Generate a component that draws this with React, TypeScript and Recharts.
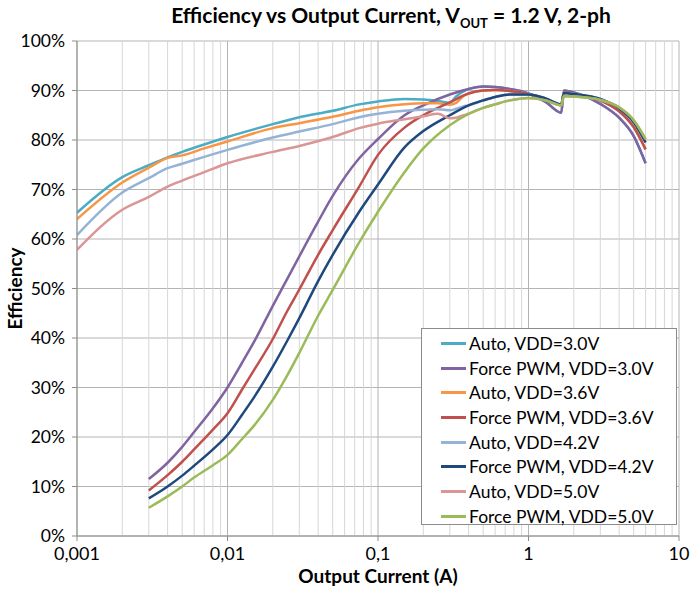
import {
  LineChart,
  Line,
  XAxis,
  YAxis,
  CartesianGrid,
  ReferenceLine,
  Label,
} from "recharts";

// output current (A) sample points
const autoCurrents = [0.001, 0.002, 0.003, 0.004, 0.005, 0.007, 0.01, 0.02, 0.03, 0.05, 0.075, 0.1, 0.15, 0.2, 0.25, 0.3, 0.33, 0.37, 0.4, 0.5, 0.6, 0.75, 1.0];
const pwmCurrents = [0.003, 0.004, 0.005, 0.006, 0.008, 0.01, 0.0125, 0.015, 0.02, 0.025, 0.03, 0.04, 0.05, 0.075, 0.1, 0.15, 0.2, 0.3, 0.4, 0.5, 0.6, 0.75, 1.0];
const tailCurrents = [1.3, 1.65, 1.72, 2, 3, 4, 5, 6];

// efficiency (%)
const auto30 = [65.3, 72.5, 74.9, 76.5, 77.6, 79.1, 80.6, 83.2, 84.6, 85.9, 87.2, 87.8, 88.3, 88.2, 87.9, 87.5, 88.8, 89.8, 90.3, 90.8, 90.7, 90.3, 89.4];
const auto36 = [64.0, 71.4, 74.4, 76.4, 76.9, 78.3, 79.7, 82.4, 83.4, 84.7, 85.9, 86.6, 87.2, 87.4, 87.4, 87.1, 87.5, 88.9, 89.4, 90.0, 90.1, 89.9, 89.3];
const auto42 = [60.8, 69.4, 72.3, 74.3, 75.2, 76.6, 78.0, 80.5, 81.7, 83.2, 84.6, 85.3, 85.9, 86.1, 86.2, 86.0, 86.3, 86.8, 87.0, 88.0, 88.7, 89.2, 89.2];
const auto50 = [57.8, 65.9, 68.5, 70.6, 71.8, 73.5, 75.3, 77.6, 78.8, 80.6, 82.4, 83.3, 84.2, 84.8, 85.3, 84.4, 84.5, 85.0, 85.3, 86.5, 87.2, 88.0, 88.5];

const pwm30 = [11.5, 14.8, 18.0, 21.0, 25.8, 30.0, 35.0, 39.2, 46.5, 52.0, 56.5, 63.5, 68.7, 76.3, 80.2, 85.0, 87.0, 89.2, 90.3, 90.8, 90.7, 90.3, 89.4];
const pwm36 = [9.2, 12.3, 15.0, 17.5, 21.5, 24.8, 29.6, 33.5, 39.8, 45.5, 49.8, 56.8, 61.8, 70.6, 77.0, 82.5, 85.0, 87.6, 89.4, 90.0, 90.1, 89.9, 89.3];
const pwm42 = [7.6, 10.0, 12.2, 14.2, 17.5, 20.4, 24.5, 28.0, 34.2, 39.5, 44.0, 51.5, 56.8, 65.5, 71.0, 78.5, 81.8, 85.0, 87.0, 88.0, 88.7, 89.2, 89.2];
const pwm50 = [5.7, 8.0, 10.0, 11.8, 14.3, 16.4, 19.6, 22.3, 27.5, 32.5, 37.0, 44.5, 49.7, 59.3, 65.5, 73.5, 78.3, 83.0, 85.3, 86.5, 87.2, 88.0, 88.5];

// above ~1 A both modes share the same curve per VDD
const tail30 = [87.7, 85.5, 90.0, 89.6, 87.3, 84.5, 80.8, 75.3];
const tail36 = [88.3, 87.0, 89.6, 89.3, 88.0, 85.8, 82.6, 78.1];
const tail42 = [88.4, 87.2, 89.5, 89.3, 88.3, 86.4, 83.6, 79.5];
const tail50 = [88.0, 87.0, 88.9, 88.8, 88.1, 86.6, 84.0, 80.2];

const majorTicks = [0.001, 0.01, 0.1, 1, 10];
const minorTicks = [2, 3, 4, 5, 6, 7, 8, 9].flatMap((m) => [0.001, 0.01, 0.1, 1].map((d) => +(m * d).toPrecision(3)));
const yTicks = [0, 10, 20, 30, 40, 50, 60, 70, 80, 90, 100];
const xTickLabels: Record<number, string> = { 0.001: "0,001", 0.01: "0,01", 0.1: "0,1", 1: "1", 10: "10" };

const toPoints = (xs: number[], ys: number[]) => xs.map((x, i) => ({ x, y: ys[i] }));

const series = [
  { name: "Auto, VDD=3.0V", color: "#4BACC6", data: toPoints([...autoCurrents, ...tailCurrents], [...auto30, ...tail30]) },
  { name: "Force PWM, VDD=3.0V", color: "#8064A2", data: toPoints([...pwmCurrents, ...tailCurrents], [...pwm30, ...tail30]) },
  { name: "Auto, VDD=3.6V", color: "#F79646", data: toPoints([...autoCurrents, ...tailCurrents], [...auto36, ...tail36]) },
  { name: "Force PWM, VDD=3.6V", color: "#C0504D", data: toPoints([...pwmCurrents, ...tailCurrents], [...pwm36, ...tail36]) },
  { name: "Auto, VDD=4.2V", color: "#95B3D7", data: toPoints([...autoCurrents, ...tailCurrents], [...auto42, ...tail42]) },
  { name: "Force PWM, VDD=4.2V", color: "#1F497D", data: toPoints([...pwmCurrents, ...tailCurrents], [...pwm42, ...tail42]) },
  { name: "Auto, VDD=5.0V", color: "#D99694", data: toPoints([...autoCurrents, ...tailCurrents], [...auto50, ...tail50]) },
  { name: "Force PWM, VDD=5.0V", color: "#9BBB59", data: toPoints([...pwmCurrents, ...tailCurrents], [...pwm50, ...tail50]) },
];

const FONT = "Lato, 'Open Sans', sans-serif";

// legend drawn in html over the plot, like the excel box
const LegendBox = () => (
  <div
    style={{
      position: "absolute",
      left: 421,
      top: 328,
      width: 256,
      height: 197,
      border: "1px solid #8c8c8c",
      background: "#fff",
      boxSizing: "border-box",
      paddingTop: 2,
    }}
  >
    {series.map((s) => (
      <div key={s.name} style={{ display: "flex", alignItems: "center", height: 24.7 }}>
        <span style={{ display: "inline-block", width: 25, height: 3, background: s.color, marginLeft: 19, marginRight: 3 }} />
        <span style={{ fontFamily: FONT, fontSize: 17.5, color: "#000", whiteSpace: "nowrap" }}>{s.name}</span>
      </div>
    ))}
  </div>
);

export default function App() {
  return (
    <div style={{ position: "absolute", left: 0, top: 0, width: 691, height: 592, background: "#fff" }}>
      <div
        style={{
          position: "absolute",
          left: 0,
          top: 2,
          width: 782,
          textAlign: "center",
          fontFamily: FONT,
          fontWeight: 700,
          fontSize: 21,
          color: "#000",
          whiteSpace: "nowrap",
        }}
      >
        Efficiency vs Output Current, V<sub style={{ fontSize: 13 }}>OUT</sub> = 1.2 V, 2-ph
      </div>
      <LineChart width={691} height={592} margin={{ top: 41, right: 12, bottom: 20, left: 17 }}>
        <CartesianGrid stroke="#B4B4B4" strokeWidth={1} />
        {minorTicks.map((t) => (
          <ReferenceLine key={t} x={t} stroke="#D6D6D6" strokeWidth={1} ifOverflow="hidden" />
        ))}
        <XAxis
          dataKey="x"
          type="number"
          scale="log"
          domain={[0.001, 10]}
          ticks={majorTicks}
          allowDataOverflow
          tickFormatter={(v: number) => xTickLabels[v] ?? String(v)}
          tick={{ fontFamily: FONT, fontSize: 18, fill: "#000", dy: 4 }}
          stroke="#8C8C8C"
          tickSize={5}
          height={36}
        >
          <Label
            value="Output Current (A)"
            position="insideBottom"
            offset={-11}
            style={{ fontFamily: FONT, fontWeight: 700, fontSize: 19, fill: "#000" }}
          />
        </XAxis>
        <YAxis
          type="number"
          domain={[0, 100]}
          ticks={yTicks}
          tickFormatter={(v: number) => `${v}%`}
          tick={{ fontFamily: FONT, fontSize: 17.5, fill: "#000", dx: -5 }}
          stroke="#8C8C8C"
          tickSize={5}
          width={60}
        >
          <Label
            value="Efficiency"
            angle={-90}
            position="insideLeft"
            offset={-2}
            style={{ fontFamily: FONT, fontWeight: 700, fontSize: 19, fill: "#000", textAnchor: "middle" }}
          />
        </YAxis>
        {series.map((s) => (
          <Line
            key={s.name}
            data={s.data}
            dataKey="y"
            name={s.name}
            type="monotone"
            stroke={s.color}
            strokeWidth={2.5}
            dot={false}
            isAnimationActive={false}
          />
        ))}
      </LineChart>
      <LegendBox />
    </div>
  );
}
